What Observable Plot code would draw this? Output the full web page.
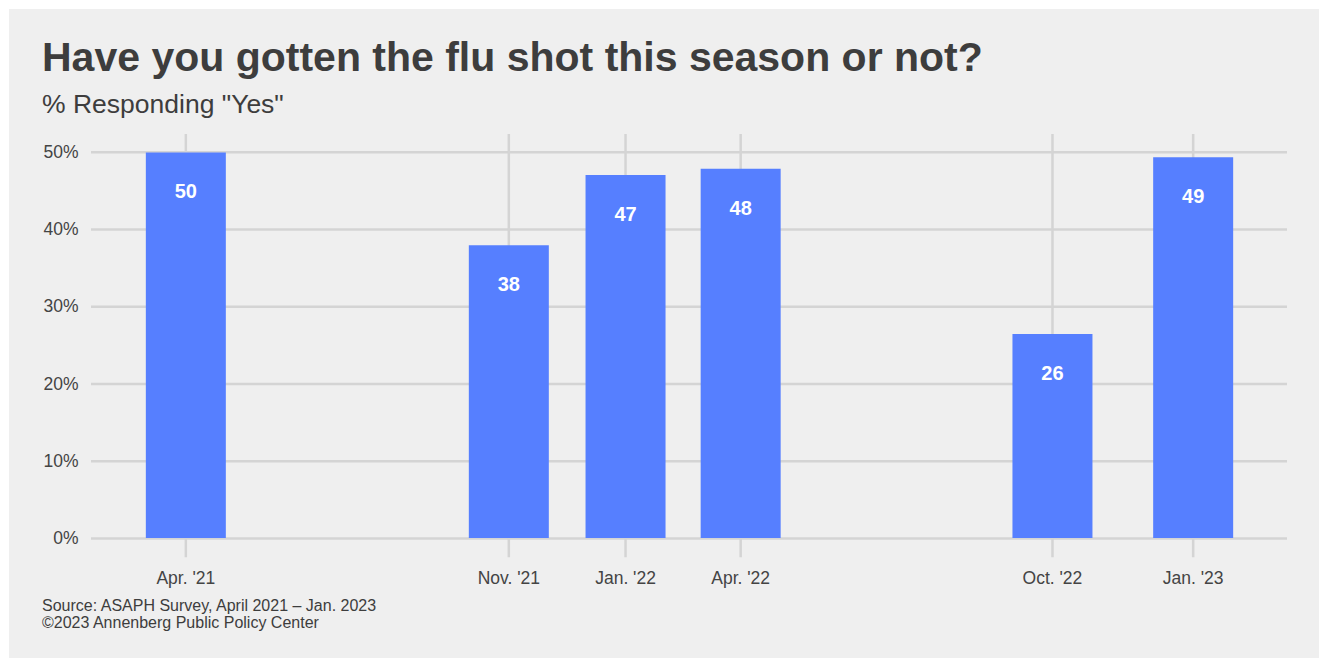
<!DOCTYPE html>
<html>
<head>
<meta charset="utf-8">
<script src="https://cdn.jsdelivr.net/npm/d3@7"></script>
<script src="https://cdn.jsdelivr.net/npm/@observablehq/plot@0.6"></script>
<style>
  html, body { margin: 0; padding: 0; background: #ffffff; }
  body { width: 1319px; height: 658px; position: relative; overflow: hidden; font-family: "Liberation Sans", Arial, Helvetica, sans-serif; }
  #panel { position: absolute; left: 9px; top: 9px; width: 1310px; height: 649px; background: #efefef; }
  #title { position: absolute; left: 42px; top: 37px; font-size: 41px; font-weight: bold; color: #3d3d3d; white-space: nowrap; line-height: 1; }
  #subtitle { position: absolute; left: 42px; top: 91px; font-size: 26.5px; color: #3d3d3d; white-space: nowrap; line-height: 1; }
  #chart { position: absolute; left: 0; top: 0; }
  #caption { position: absolute; left: 42px; top: 597px; font-size: 16px; color: #3d3d3d; line-height: 17px; white-space: nowrap; }
</style>
</head>
<body>
<div id="panel"></div>
<div id="chart"></div>
<div id="title">Have you gotten the flu shot this season or not?</div>
<div id="subtitle">% Responding "Yes"</div>
<div id="caption">Source: ASAPH Survey, April 2021 – Jan. 2023<br>©2023 Annenberg Public Policy Center</div>
<script>
// Survey waves
const waveDates = ["2021-04-20", "2021-11-08", "2022-01-20", "2022-04-02", "2022-10-14", "2023-01-10"];
const waveLabels = ["Apr. '21", "Nov. '21", "Jan. '22", "Apr. '22", "Oct. '22", "Jan. '23"];
const yesShare = [49.9, 37.9, 47.0, 47.8, 26.4, 49.3];
const yTicks = [0, 10, 20, 30, 40, 50];

const data = waveDates.map((d, i) => ({date: new Date(d + "T00:00:00Z"), label: waveLabels[i], value: yesShare[i]}));
const labelOf = new Map(data.map(d => [+d.date, d.label]));

const xDomain = [new Date("2021-02-20T00:00:00Z"), new Date("2023-03-10T00:00:00Z")];
const yDomain = [0, 52.3];

const gridColor = "#d4d4d4";
const textColor = "#444444";

const chart = Plot.plot({
  width: 1319,
  height: 658,
  marginLeft: 91,
  marginRight: 32,
  marginTop: 134,
  marginBottom: 120,
  style: {background: "transparent", fontFamily: "'Liberation Sans', Arial, Helvetica, sans-serif"},
  x: {type: "utc", domain: xDomain},
  y: {domain: yDomain},
  marks: [
    Plot.ruleY(yTicks, {stroke: gridColor, strokeWidth: 2.5}),
    Plot.ruleX(data, {x: "date", y1: yDomain[1], y2: -2.5, stroke: gridColor, strokeWidth: 2.5}),
    Plot.ruleX(data, {x: "date", y1: 0, y2: "value", stroke: "#567fff", strokeWidth: 80}),
    Plot.text(data, {x: "date", y: "value", text: d => Math.round(d.value).toString(), dy: 39, fill: "white", fontWeight: "bold", fontSize: 20}),
    Plot.axisY({ticks: yTicks, tickSize: 0, tickPadding: 13, tickFormat: d => d + "%", fontSize: 17.5, color: textColor, label: null}),
    Plot.axisX({ticks: data.map(d => d.date), tickSize: 0, tickPadding: 33, tickFormat: d => labelOf.get(+d), fontSize: 17.5, color: textColor, label: null})
  ]
});
document.getElementById("chart").appendChild(chart);
</script>
</body>
</html>
